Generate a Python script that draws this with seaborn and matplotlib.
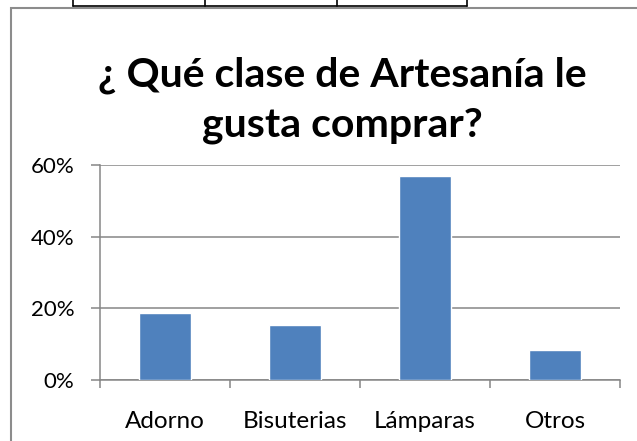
import matplotlib
matplotlib.use("Agg")
import matplotlib.pyplot as plt
from matplotlib.lines import Line2D
from matplotlib.patches import Rectangle
from matplotlib.ticker import PercentFormatter, FixedLocator
import seaborn as sns
import pandas as pd

# data
categorias = ["Adorno", "Bisuterias", "Lámparas", "Otros"]
porcentajes = [0.188, 0.153, 0.569, 0.085]
y_ticks = [0.0, 0.2, 0.4, 0.6]
titulo_1 = "¿ Qué clase de Artesanía le"
titulo_2 = "gusta comprar?"

bar_color = "#4F81BD"
grid_color = "#868686"

sns.set_style("white")
plt.rcParams["font.family"] = ["Lato", "DejaVu Sans"]

df = pd.DataFrame({"categoria": categorias, "pct": porcentajes})

fig = plt.figure(figsize=(6.37, 4.41), dpi=100)
ax = fig.add_axes([100 / 637, 61 / 441, 520 / 637, 215 / 441])

sns.barplot(data=df, x="categoria", y="pct", color=bar_color,
            width=0.4, saturation=1, ax=ax, zorder=3)

ax.set_ylim(0, 0.6)
ax.set_xlim(-0.5, len(categorias) - 0.5)
ax.yaxis.set_major_locator(FixedLocator(y_ticks))
ax.yaxis.set_major_formatter(PercentFormatter(1.0, decimals=0))
ax.set_xlabel("")
ax.set_ylabel("")

ax.grid(axis="y", color=grid_color, linewidth=1.1, zorder=0)
ax.grid(axis="x", visible=False)
for side in ["top", "right"]:
    ax.spines[side].set_visible(False)
for side in ["left", "bottom"]:
    ax.spines[side].set_color(grid_color)
    ax.spines[side].set_linewidth(1.1)

ax.tick_params(axis="y", which="major", direction="out", length=6.5,
               width=1.1, color=grid_color, labelsize=16, pad=12,
               left=True, labelcolor="black")
ax.tick_params(axis="x", which="major", length=0, labelsize=17.5, pad=22,
               labelcolor="black")
ax.set_xticks([i - 0.5 for i in range(len(categorias) + 1)], minor=True)
ax.tick_params(axis="x", which="minor", direction="out", length=6,
               width=1.1, color=grid_color, bottom=True)

# titulo
fig.text(342 / 637, 1 - 87 / 441, titulo_1, ha="center", va="baseline",
         fontsize=29.5, fontweight="bold", color="black")
fig.text(342 / 637, 1 - 137 / 441, titulo_2, ha="center", va="baseline",
         fontsize=29.5, fontweight="bold", color="black")

# chart border and table fragment above
fig.add_artist(Rectangle((10.5 / 637, -0.1), 1.2, 1 - 7.5 / 441 + 0.1,
                         transform=fig.transFigure, fill=False,
                         edgecolor="#8c8c8c", linewidth=1.5))
fig.add_artist(Line2D([73 / 637, 467 / 637], [1 - 6 / 441] * 2,
                      transform=fig.transFigure, color="black", linewidth=1.2))
for xv in [73, 205, 337, 467]:
    fig.add_artist(Line2D([xv / 637] * 2, [1 - 6 / 441, 1.0],
                          transform=fig.transFigure, color="black",
                          linewidth=1.2))

fig.savefig("out.png", dpi=100)
